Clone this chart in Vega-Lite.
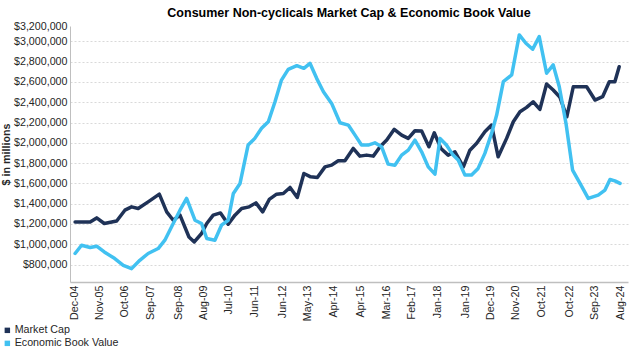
{
  "$schema": "https://vega.github.io/schema/vega-lite/v6.json",
  "width": 558,
  "height": 256,
  "autosize": "none",
  "padding": {"left": 70, "top": 26, "right": 2, "bottom": 66},
  "config": {"view": {"stroke": null}, "font": "Liberation Sans"},
  "title": {"text": "Consumer Non-cyclicals Market Cap & Economic Book Value", "fontSize": 12.5, "font": "Liberation Sans", "fontWeight": "bold", "color": "#000000", "anchor": "middle", "offset": 1},
  "data": {"values": [
    {"d": "2004-12-15", "s": "Market Cap", "v": 1220000},
    {"d": "2005-07-01", "s": "Market Cap", "v": 1220000},
    {"d": "2005-09-25", "s": "Market Cap", "v": 1260000},
    {"d": "2006-01-03", "s": "Market Cap", "v": 1205000},
    {"d": "2006-06-15", "s": "Market Cap", "v": 1230000},
    {"d": "2006-10-01", "s": "Market Cap", "v": 1336000},
    {"d": "2006-12-28", "s": "Market Cap", "v": 1369000},
    {"d": "2007-03-25", "s": "Market Cap", "v": 1353000},
    {"d": "2007-08-03", "s": "Market Cap", "v": 1418000},
    {"d": "2007-12-28", "s": "Market Cap", "v": 1494000},
    {"d": "2008-04-03", "s": "Market Cap", "v": 1319000},
    {"d": "2008-06-28", "s": "Market Cap", "v": 1237000},
    {"d": "2008-09-25", "s": "Market Cap", "v": 1287000},
    {"d": "2009-01-21", "s": "Market Cap", "v": 1072000},
    {"d": "2009-04-01", "s": "Market Cap", "v": 1023000},
    {"d": "2009-07-06", "s": "Market Cap", "v": 1106000},
    {"d": "2009-09-12", "s": "Market Cap", "v": 1205000},
    {"d": "2009-12-06", "s": "Market Cap", "v": 1287000},
    {"d": "2010-03-12", "s": "Market Cap", "v": 1309000},
    {"d": "2010-06-21", "s": "Market Cap", "v": 1198000},
    {"d": "2010-09-18", "s": "Market Cap", "v": 1287000},
    {"d": "2010-12-15", "s": "Market Cap", "v": 1353000},
    {"d": "2011-03-24", "s": "Market Cap", "v": 1369000},
    {"d": "2011-06-21", "s": "Market Cap", "v": 1408000},
    {"d": "2011-09-18", "s": "Market Cap", "v": 1319000},
    {"d": "2011-12-13", "s": "Market Cap", "v": 1442000},
    {"d": "2012-03-19", "s": "Market Cap", "v": 1494000},
    {"d": "2012-06-15", "s": "Market Cap", "v": 1501000},
    {"d": "2012-09-12", "s": "Market Cap", "v": 1560000},
    {"d": "2012-12-16", "s": "Market Cap", "v": 1461000},
    {"d": "2013-03-13", "s": "Market Cap", "v": 1698000},
    {"d": "2013-06-10", "s": "Market Cap", "v": 1665000},
    {"d": "2013-09-06", "s": "Market Cap", "v": 1659000},
    {"d": "2013-12-16", "s": "Market Cap", "v": 1763000},
    {"d": "2014-03-13", "s": "Market Cap", "v": 1780000},
    {"d": "2014-06-08", "s": "Market Cap", "v": 1823000},
    {"d": "2014-09-04", "s": "Market Cap", "v": 1823000},
    {"d": "2014-12-22", "s": "Market Cap", "v": 1945000},
    {"d": "2015-03-19", "s": "Market Cap", "v": 1869000},
    {"d": "2015-06-16", "s": "Market Cap", "v": 1879000},
    {"d": "2015-09-12", "s": "Market Cap", "v": 1869000},
    {"d": "2015-12-10", "s": "Market Cap", "v": 1961000},
    {"d": "2016-03-07", "s": "Market Cap", "v": 2027000},
    {"d": "2016-06-14", "s": "Market Cap", "v": 2133000},
    {"d": "2016-09-19", "s": "Market Cap", "v": 2076000},
    {"d": "2016-12-15", "s": "Market Cap", "v": 2044000},
    {"d": "2017-03-13", "s": "Market Cap", "v": 2119000},
    {"d": "2017-06-09", "s": "Market Cap", "v": 2116000},
    {"d": "2017-09-13", "s": "Market Cap", "v": 1961000},
    {"d": "2017-11-22", "s": "Market Cap", "v": 2099000},
    {"d": "2018-02-18", "s": "Market Cap", "v": 1945000},
    {"d": "2018-05-24", "s": "Market Cap", "v": 1879000},
    {"d": "2018-08-21", "s": "Market Cap", "v": 1912000},
    {"d": "2018-12-10", "s": "Market Cap", "v": 1763000},
    {"d": "2019-03-06", "s": "Market Cap", "v": 1928000},
    {"d": "2019-06-03", "s": "Market Cap", "v": 1995000},
    {"d": "2019-09-19", "s": "Market Cap", "v": 2109000},
    {"d": "2019-12-16", "s": "Market Cap", "v": 2175000},
    {"d": "2020-03-12", "s": "Market Cap", "v": 1862000},
    {"d": "2020-07-01", "s": "Market Cap", "v": 2044000},
    {"d": "2020-09-27", "s": "Market Cap", "v": 2208000},
    {"d": "2020-12-24", "s": "Market Cap", "v": 2307000},
    {"d": "2021-03-21", "s": "Market Cap", "v": 2350000},
    {"d": "2021-06-15", "s": "Market Cap", "v": 2405000},
    {"d": "2021-09-12", "s": "Market Cap", "v": 2330000},
    {"d": "2021-12-09", "s": "Market Cap", "v": 2580000},
    {"d": "2022-03-06", "s": "Market Cap", "v": 2521000},
    {"d": "2022-06-03", "s": "Market Cap", "v": 2449000},
    {"d": "2022-09-01", "s": "Market Cap", "v": 2257000},
    {"d": "2022-11-25", "s": "Market Cap", "v": 2553000},
    {"d": "2023-02-22", "s": "Market Cap", "v": 2553000},
    {"d": "2023-05-20", "s": "Market Cap", "v": 2553000},
    {"d": "2023-09-07", "s": "Market Cap", "v": 2422000},
    {"d": "2023-12-16", "s": "Market Cap", "v": 2455000},
    {"d": "2024-03-13", "s": "Market Cap", "v": 2603000},
    {"d": "2024-05-25", "s": "Market Cap", "v": 2603000},
    {"d": "2024-07-21", "s": "Market Cap", "v": 2751000},
    {"d": "2004-12-15", "s": "Economic Book Value", "v": 909000},
    {"d": "2005-03-10", "s": "Economic Book Value", "v": 990000},
    {"d": "2005-07-01", "s": "Economic Book Value", "v": 968000},
    {"d": "2005-09-25", "s": "Economic Book Value", "v": 981000},
    {"d": "2006-01-03", "s": "Economic Book Value", "v": 924000},
    {"d": "2006-05-21", "s": "Economic Book Value", "v": 859000},
    {"d": "2006-09-10", "s": "Economic Book Value", "v": 793000},
    {"d": "2006-12-28", "s": "Economic Book Value", "v": 760000},
    {"d": "2007-04-15", "s": "Economic Book Value", "v": 842000},
    {"d": "2007-08-03", "s": "Economic Book Value", "v": 909000},
    {"d": "2007-12-13", "s": "Economic Book Value", "v": 958000},
    {"d": "2008-03-10", "s": "Economic Book Value", "v": 1040000},
    {"d": "2008-06-28", "s": "Economic Book Value", "v": 1205000},
    {"d": "2008-09-25", "s": "Economic Book Value", "v": 1336000},
    {"d": "2008-12-21", "s": "Economic Book Value", "v": 1452000},
    {"d": "2009-04-10", "s": "Economic Book Value", "v": 1237000},
    {"d": "2009-07-06", "s": "Economic Book Value", "v": 1205000},
    {"d": "2009-09-12", "s": "Economic Book Value", "v": 1057000},
    {"d": "2009-12-28", "s": "Economic Book Value", "v": 1040000},
    {"d": "2010-03-25", "s": "Economic Book Value", "v": 1188000},
    {"d": "2010-06-21", "s": "Economic Book Value", "v": 1237000},
    {"d": "2010-08-28", "s": "Economic Book Value", "v": 1501000},
    {"d": "2010-11-24", "s": "Economic Book Value", "v": 1600000},
    {"d": "2011-03-10", "s": "Economic Book Value", "v": 1978000},
    {"d": "2011-06-06", "s": "Economic Book Value", "v": 2044000},
    {"d": "2011-09-03", "s": "Economic Book Value", "v": 2143000},
    {"d": "2011-12-01", "s": "Economic Book Value", "v": 2208000},
    {"d": "2012-02-27", "s": "Economic Book Value", "v": 2405000},
    {"d": "2012-05-22", "s": "Economic Book Value", "v": 2619000},
    {"d": "2012-08-19", "s": "Economic Book Value", "v": 2725000},
    {"d": "2012-12-10", "s": "Economic Book Value", "v": 2761000},
    {"d": "2013-03-13", "s": "Economic Book Value", "v": 2735000},
    {"d": "2013-06-01", "s": "Economic Book Value", "v": 2784000},
    {"d": "2013-08-28", "s": "Economic Book Value", "v": 2636000},
    {"d": "2013-11-25", "s": "Economic Book Value", "v": 2504000},
    {"d": "2014-03-13", "s": "Economic Book Value", "v": 2389000},
    {"d": "2014-07-01", "s": "Economic Book Value", "v": 2198000},
    {"d": "2014-10-18", "s": "Economic Book Value", "v": 2175000},
    {"d": "2015-01-15", "s": "Economic Book Value", "v": 2076000},
    {"d": "2015-04-10", "s": "Economic Book Value", "v": 1978000},
    {"d": "2015-07-07", "s": "Economic Book Value", "v": 1978000},
    {"d": "2015-10-03", "s": "Economic Book Value", "v": 2000000},
    {"d": "2015-12-31", "s": "Economic Book Value", "v": 1961000},
    {"d": "2016-03-25", "s": "Economic Book Value", "v": 1790000},
    {"d": "2016-06-22", "s": "Economic Book Value", "v": 1780000},
    {"d": "2016-09-19", "s": "Economic Book Value", "v": 1879000},
    {"d": "2016-12-15", "s": "Economic Book Value", "v": 1928000},
    {"d": "2017-03-13", "s": "Economic Book Value", "v": 2027000},
    {"d": "2017-06-09", "s": "Economic Book Value", "v": 1912000},
    {"d": "2017-09-04", "s": "Economic Book Value", "v": 1763000},
    {"d": "2017-12-01", "s": "Economic Book Value", "v": 1691000},
    {"d": "2018-02-06", "s": "Economic Book Value", "v": 2044000},
    {"d": "2018-05-01", "s": "Economic Book Value", "v": 1978000},
    {"d": "2018-07-28", "s": "Economic Book Value", "v": 1879000},
    {"d": "2018-10-03", "s": "Economic Book Value", "v": 1830000},
    {"d": "2018-12-31", "s": "Economic Book Value", "v": 1682000},
    {"d": "2019-03-28", "s": "Economic Book Value", "v": 1682000},
    {"d": "2019-06-22", "s": "Economic Book Value", "v": 1748000},
    {"d": "2019-09-19", "s": "Economic Book Value", "v": 1896000},
    {"d": "2019-12-16", "s": "Economic Book Value", "v": 2093000},
    {"d": "2020-02-21", "s": "Economic Book Value", "v": 2274000},
    {"d": "2020-05-19", "s": "Economic Book Value", "v": 2603000},
    {"d": "2020-09-06", "s": "Economic Book Value", "v": 2669000},
    {"d": "2020-12-15", "s": "Economic Book Value", "v": 3064000},
    {"d": "2021-03-12", "s": "Economic Book Value", "v": 2982000},
    {"d": "2021-06-09", "s": "Economic Book Value", "v": 2923000},
    {"d": "2021-09-03", "s": "Economic Book Value", "v": 3047000},
    {"d": "2021-12-09", "s": "Economic Book Value", "v": 2686000},
    {"d": "2022-03-06", "s": "Economic Book Value", "v": 2768000},
    {"d": "2022-05-25", "s": "Economic Book Value", "v": 2553000},
    {"d": "2022-08-21", "s": "Economic Book Value", "v": 2192000},
    {"d": "2022-11-16", "s": "Economic Book Value", "v": 1731000},
    {"d": "2023-02-22", "s": "Economic Book Value", "v": 1600000},
    {"d": "2023-06-10", "s": "Economic Book Value", "v": 1452000},
    {"d": "2023-10-19", "s": "Economic Book Value", "v": 1484000},
    {"d": "2024-01-16", "s": "Economic Book Value", "v": 1534000},
    {"d": "2024-03-22", "s": "Economic Book Value", "v": 1639000},
    {"d": "2024-05-25", "s": "Economic Book Value", "v": 1625000},
    {"d": "2024-08-01", "s": "Economic Book Value", "v": 1600000}
  ]},
  "mark": {"type": "line", "strokeWidth": 3.5, "strokeJoin": "round", "strokeCap": "round"},
  "encoding": {
    "x": {
      "field": "d", "type": "temporal",
      "scale": {"type": "utc", "domain": [{"year": 2004, "month": 10, "date": 9, "utc": true}, {"year": 2024, "month": 11, "date": 14, "utc": true}]},
      "axis": {
        "title": null,
        "values": [
          {"year": 2004, "month": 12, "date": 1, "utc": true},
          {"year": 2005, "month": 11, "date": 1, "utc": true},
          {"year": 2006, "month": 10, "date": 1, "utc": true},
          {"year": 2007, "month": 9, "date": 1, "utc": true},
          {"year": 2008, "month": 9, "date": 1, "utc": true},
          {"year": 2009, "month": 8, "date": 1, "utc": true},
          {"year": 2010, "month": 7, "date": 1, "utc": true},
          {"year": 2011, "month": 6, "date": 1, "utc": true},
          {"year": 2012, "month": 6, "date": 1, "utc": true},
          {"year": 2013, "month": 5, "date": 1, "utc": true},
          {"year": 2014, "month": 4, "date": 1, "utc": true},
          {"year": 2015, "month": 4, "date": 1, "utc": true},
          {"year": 2016, "month": 3, "date": 1, "utc": true},
          {"year": 2017, "month": 2, "date": 1, "utc": true},
          {"year": 2018, "month": 1, "date": 1, "utc": true},
          {"year": 2019, "month": 1, "date": 1, "utc": true},
          {"year": 2019, "month": 12, "date": 1, "utc": true},
          {"year": 2020, "month": 11, "date": 1, "utc": true},
          {"year": 2021, "month": 10, "date": 1, "utc": true},
          {"year": 2022, "month": 10, "date": 1, "utc": true},
          {"year": 2023, "month": 9, "date": 1, "utc": true},
          {"year": 2024, "month": 8, "date": 1, "utc": true}
        ],
        "labelExpr": "utcFormat(datum.value, '%b-%y')",
        "labelAngle": -90,
        "labelFontSize": 10.7,
        "labelColor": "#262626",
        "labelPadding": 3,
        "labelOverlap": false,
        "labelFlush": false,
        "ticks": false,
        "grid": false,
        "domainColor": "#bfbfbf",
        "domainWidth": 1.5
      }
    },
    "y": {
      "field": "v", "type": "quantitative",
      "scale": {"domain": [628000, 3152000], "nice": false, "zero": false},
      "axis": {
        "title": "$ in millions",
        "titleFontSize": 10.7,
        "titleFontWeight": "bold",
        "titleColor": "#262626",
        "titlePadding": 2,
        "values": [800000, 1000000, 1200000, 1400000, 1600000, 1800000, 2000000, 2200000, 2400000, 2600000, 2800000, 3000000, 3152000],
        "labelExpr": "datum.value > 3100000 ? '$3,200,000' : '$' + format(datum.value, ',')",
        "labelFontSize": 10.7,
        "labelColor": "#262626",
        "labelPadding": 3,
        "labelOverlap": false,
        "labelFlush": false,
        "ticks": false,
        "domainColor": "#bfbfbf",
        "domainWidth": 1,
        "gridColor": "#d9d9d9",
        "gridDash": [2, 2],
        "gridWidth": 1,
        "gridOpacity": {"condition": {"test": "datum.value > 3100000", "value": 0}, "value": 1}
      }
    },
    "color": {
      "field": "s", "type": "nominal",
      "scale": {"domain": ["Market Cap", "Economic Book Value"], "range": ["#1f3257", "#41c1f1"]},
      "legend": {
        "title": null,
        "orient": "none",
        "legendX": -68,
        "legendY": 299,
        "direction": "vertical",
        "symbolType": "square",
        "symbolSize": 6,
        "symbolStrokeWidth": 3,
        "labelFontSize": 10.7,
        "labelColor": "#262626",
        "labelOffset": 2,
        "rowPadding": -3
      }
    }
  }
}
